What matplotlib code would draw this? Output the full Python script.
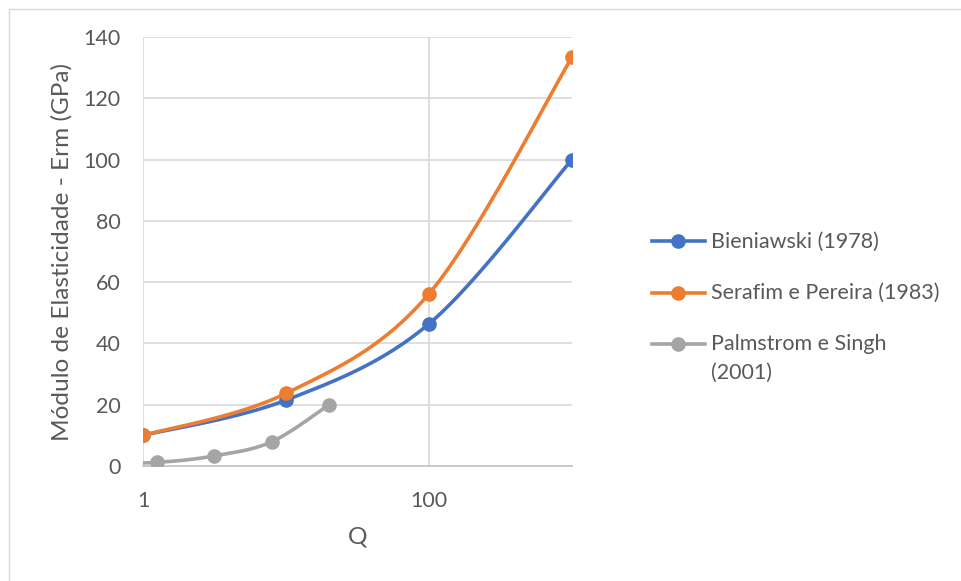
import numpy as np
import matplotlib
matplotlib.use("Agg")
import matplotlib.pyplot as plt
from matplotlib.lines import Line2D
from matplotlib.patches import Rectangle

# Rock mass deformation modulus vs Q
series_names = ["Bieniawski (1978)", "Serafim e Pereira (1983)", "Palmstrom e Singh\n(2001)"]
q_bieniawski = [1, 10, 100, 1000]
e_bieniawski = [10.0, 21.5, 46.4, 100.0]
q_serafim = [1, 10, 100, 1000]
e_serafim = [10.0, 23.7, 56.2, 133.4]
q_palmstrom = [0.4, 1.26, 3.16, 7.94, 20.0]
e_palmstrom = [0.6, 1.2, 3.3, 7.9, 20.0]

x_ticks = [1, 100]
x_tick_labels = ["1", "100"]
y_ticks = [0, 20, 40, 60, 80, 100, 120, 140]

colors = ["#4472C4", "#ED7D31", "#A5A5A5"]
text_color = "#595959"
FS = 15.5
FS_TITLE = 17.6

W, H = 962, 581
plt.rcParams["font.family"] = ["Lato", "DejaVu Sans"]
fig = plt.figure(figsize=(W / 100, H / 100), dpi=100)

# chart-area frame
fig.patches.append(Rectangle((9 / W, -0.2), 2, 0.2 + (H - 9) / H, transform=fig.transFigure,
                             fill=False, edgecolor="#D9D9D9", lw=1.0, zorder=0))

ax = fig.add_axes([143 / W, (H - 466) / H, 429 / W, 429 / H])
ax.set_xscale("log")
ax.set_xlim(1, 1000)
ax.set_ylim(0, 140)

for s in ax.spines.values():
    s.set_visible(False)
ax.axhline(0, color="#BFBFBF", lw=1.2, zorder=2, clip_on=False)
for yv in y_ticks[1:]:
    ax.axhline(yv, color="#D9D9D9", lw=1.2, zorder=1)
for xv in x_ticks:
    ax.axvline(xv, color="#D9D9D9", lw=1.2, zorder=1)

ax.set_xticks(x_ticks)
ax.set_xticklabels(x_tick_labels)
ax.xaxis.set_minor_locator(matplotlib.ticker.NullLocator())
ax.set_yticks(y_ticks)
ax.tick_params(length=0, labelsize=FS, colors=text_color)
ax.tick_params(axis="x", pad=18)
ax.tick_params(axis="y", pad=16)

ax.set_xlabel("Q", fontsize=FS_TITLE, color=text_color, va="center", ha="center")
ax.xaxis.set_label_coords((358 - 143) / 429, (466 - 537) / 429)
ax.set_ylabel("Módulo de Elasticidade - Erm (GPa)", fontsize=FS_TITLE, color=text_color,
              va="center", ha="center")
ax.yaxis.set_label_coords((62 - 143) / 429, (466 - 252) / 429)


def smooth(xs, ys, n=40):
    """Bezier smoothing (Catmull-Rom style) computed in display space."""
    pts = ax.transData.transform(np.column_stack([xs, ys]))
    P = np.vstack([pts[0], pts, pts[-1]])
    out = []
    for i in range(1, len(P) - 2):
        p0, p1, p2, p3 = P[i - 1], P[i], P[i + 1], P[i + 2]
        c1 = p1 + (p2 - p0) / 6.0
        c2 = p2 - (p3 - p1) / 6.0
        t = np.linspace(0, 1, n)[:, None]
        seg = ((1 - t) ** 3) * p1 + 3 * ((1 - t) ** 2) * t * c1 + 3 * (1 - t) * t ** 2 * c2 + t ** 3 * p2
        out.append(seg if i == 1 else seg[1:])
    curve = np.vstack(out)
    d = ax.transData.inverted().transform(curve)
    return d[:, 0], d[:, 1]


data = [(q_bieniawski, e_bieniawski), (q_serafim, e_serafim), (q_palmstrom, e_palmstrom)]
zs = [4, 5, 3]
for (qx, ey), c, z in zip(data, colors, zs):
    sx, sy = smooth(qx, ey)
    ax.plot(sx, sy, color=c, lw=2.6, solid_capstyle="round", zorder=z)
    ax.plot(qx, ey, "o", color=c, ms=9.5, zorder=z, clip_on=True)

# legend
leg_y = [241.5, 292.7, 344.3]
for name, c, yy in zip(series_names, colors, leg_y):
    fy = (H - yy) / H
    fig.add_artist(Line2D([652 / W, 705 / W], [fy, fy], transform=fig.transFigure,
                          color=c, lw=2.6))
    fig.add_artist(Line2D([678.5 / W], [fy], transform=fig.transFigure, marker="o",
                          color=c, ms=9.5, lw=0))
    lines = name.split("\n")
    for k, line in enumerate(lines):
        fig.text(711 / W, fy - k * 29 / H, line, fontsize=FS, color=text_color,
                 va="center", ha="left")

fig.savefig("out.png", dpi=100)
